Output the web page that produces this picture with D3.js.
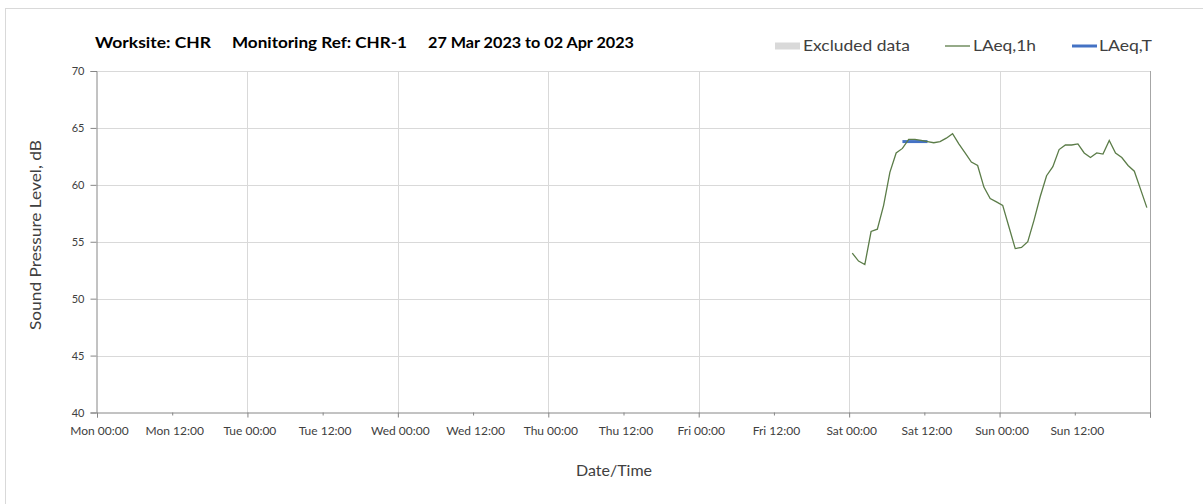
<!DOCTYPE html>
<html>
<head>
<meta charset="utf-8">
<script src="https://cdn.jsdelivr.net/npm/d3@7"></script>
<style>
  body { margin: 0; background: #fff; }
  text { font-family: Lato, "Open Sans", sans-serif; }
</style>
</head>
<body>
<div id="chart"></div>
<script>
// chart data
var weekStart = Date.UTC(2023, 2, 27);          // Mon 27 Mar 2023 00:00
var weekEnd   = Date.UTC(2023, 3, 3);           // Mon 03 Apr 2023 00:00
var seriesStart = Date.UTC(2023, 3, 1, 0, 30);  // first hourly value, Sat 00:30

var laeq1h = [
    54.0, 53.3, 53.0, 55.9, 56.1, 58.2, 61.1, 62.8, 63.2, 64.0, 64.0, 63.9,
    63.8, 63.7, 63.8, 64.1, 64.5, 63.6, 62.8, 62.0, 61.7, 59.8, 58.8, 58.5,
    58.2, 56.3, 54.4, 54.5, 55.0, 56.9, 59.0, 60.8, 61.6, 63.1, 63.5, 63.5,
    63.6, 62.8, 62.4, 62.8, 62.7, 63.9, 62.8, 62.4, 61.7, 61.2, 59.6, 58.0
];
var laeqTTimes  = [Date.UTC(2023, 3, 1, 8, 30), Date.UTC(2023, 3, 1, 12, 30)];
var laeqTValues = [63.8, 63.8];

var yTicks = [40, 45, 50, 55, 60, 65, 70];
var legendItems = ["Excluded data", "LAeq,1h", "LAeq,T"];
var titleParts = ["Worksite: CHR", "Monitoring Ref: CHR-1", "27 Mar 2023 to 02 Apr 2023"];

// size properties
var w = 1203;
var h = 504;
var margin = {left: 97, right: 53, top: 71, bottom: 92};

var svg = d3.select('#chart')
    .append('svg')
    .attr('width', w)
    .attr('height', h);

// outer frame
svg.append('rect')
    .attr('x', 5.5).attr('y', 8.5)
    .attr('width', w).attr('height', h)
    .attr('fill', 'none')
    .attr('stroke', '#d9d9d9');

var x = d3.scaleUtc()
    .domain([weekStart, weekEnd])
    .range([margin.left, w - margin.right]);

var y = d3.scaleLinear()
    .domain([40, 70])
    .range([h - margin.bottom + 0.5, margin.top]);

// grid
var grid = svg.append('g').attr('class', 'grid');
grid.selectAll('line.hgrid')
    .data(yTicks.slice(1))
    .enter().append('line')
    .attr('x1', x.range()[0]).attr('x2', x.range()[1])
    .attr('y1', function (d) { return Math.round(y(d)) + 0.5; })
    .attr('y2', function (d) { return Math.round(y(d)) + 0.5; })
    .attr('stroke', '#d9d9d9');

grid.selectAll('line.vgrid')
    .data(d3.utcDay.range(weekStart + 1, weekEnd))
    .enter().append('line')
    .attr('x1', function (d) { return Math.round(x(d)) + 0.5; })
    .attr('x2', function (d) { return Math.round(x(d)) + 0.5; })
    .attr('y1', y.range()[1]).attr('y2', y.range()[0])
    .attr('stroke', '#d9d9d9');

// right edge
svg.append('line')
    .attr('x1', Math.round(x(weekEnd)) + 0.5).attr('x2', Math.round(x(weekEnd)) + 0.5)
    .attr('y1', y.range()[1]).attr('y2', y.range()[0] + 5)
    .attr('stroke', '#a6a6a6');

// y axis
var yAxis = svg.append('g')
    .attr('transform', 'translate(' + (margin.left - 0.5) + ',0)')
    .call(d3.axisLeft(y).tickValues(yTicks).tickSize(6).tickPadding(6));
yAxis.select('.domain').attr('stroke', '#868686');
yAxis.selectAll('.tick line').attr('stroke', '#868686');
yAxis.selectAll('.tick text')
    .attr('fill', '#404040')
    .style('font-size', '11px');

// x axis
var xAxis = svg.append('g')
    .attr('transform', 'translate(0,' + (y.range()[0]) + ')')
    .call(d3.axisBottom(x)
        .ticks(d3.utcHour.every(12))
        .tickSizeOuter(0)
        .tickSize(5)
        .tickPadding(9)
        .tickFormat(function (d) {
            return d3.utcFormat('%a %H:%M')(d);
        }));
xAxis.select('.domain').attr('stroke', '#868686');
xAxis.selectAll('.tick line')
    .attr('stroke', '#868686')
    .attr('y2', function (d) { return d.getUTCHours() === 0 ? 5 : 3; });
xAxis.selectAll('.tick text')
    .attr('fill', '#404040')
    .attr('dx', 2)
    .style('font-size', '12px');
xAxis.selectAll('.tick')
    .filter(function (d) { return +d === weekEnd; })
    .select('text').remove();

// axis titles
svg.append('text')
    .attr('transform', 'translate(41,235) rotate(-90)')
    .attr('text-anchor', 'middle')
    .attr('textLength', 190)
    .attr('lengthAdjust', 'spacingAndGlyphs')
    .attr('fill', '#404040')
    .style('font-size', '16px')
    .text('Sound Pressure Level, dB');

svg.append('text')
    .attr('x', 614).attr('y', 476)
    .attr('text-anchor', 'middle')
    .attr('fill', '#404040')
    .style('font-size', '16px')
    .text('Date/Time');

// series
var hourly = laeq1h.map(function (v, i) {
    return {t: seriesStart + i * 3600000, v: v};
});
var line = d3.line()
    .x(function (d) { return x(d.t); })
    .y(function (d) { return y(d.v); });

svg.append('path')
    .datum(laeqTTimes.map(function (t, i) { return {t: t, v: laeqTValues[i]}; }))
    .attr('fill', 'none')
    .attr('stroke', '#4472c4')
    .attr('stroke-width', 3)
    .attr('d', line);

svg.append('path')
    .datum(hourly)
    .attr('fill', 'none')
    .attr('stroke', '#5b7c48')
    .attr('stroke-width', 1.3)
    .attr('d', line);

// title
var titleX = [95, 232, 428];
var titleW = [116, 175, 206];
svg.selectAll('text.title')
    .data(titleParts)
    .enter().append('text')
    .attr('class', 'title')
    .attr('x', function (d, i) { return titleX[i]; })
    .attr('y', 48)
    .attr('textLength', function (d, i) { return titleW[i]; })
    .attr('lengthAdjust', 'spacingAndGlyphs')
    .attr('fill', '#000')
    .style('font-size', '15px')
    .style('font-weight', 'bold')
    .text(function (d) { return d; });

// legend
var legend = svg.append('g');
legend.append('rect')
    .attr('x', 775).attr('y', 42.5)
    .attr('width', 25).attr('height', 7)
    .attr('fill', '#d9d9d9');
legend.append('line')
    .attr('x1', 945).attr('x2', 970)
    .attr('y1', 46).attr('y2', 46)
    .attr('stroke', '#5b7c48').attr('stroke-width', 1.3);
legend.append('line')
    .attr('x1', 1072).attr('x2', 1097)
    .attr('y1', 46).attr('y2', 46)
    .attr('stroke', '#4472c4').attr('stroke-width', 3);

var legX = [803, 973, 1099];
var legW = [107, 63, 53];
legend.selectAll('text')
    .data(legendItems)
    .enter().append('text')
    .attr('x', function (d, i) { return legX[i]; })
    .attr('y', 51)
    .attr('textLength', function (d, i) { return legW[i]; })
    .attr('lengthAdjust', 'spacingAndGlyphs')
    .attr('fill', '#404040')
    .style('font-size', '15px')
    .text(function (d) { return d; });
</script>
</body>
</html>
